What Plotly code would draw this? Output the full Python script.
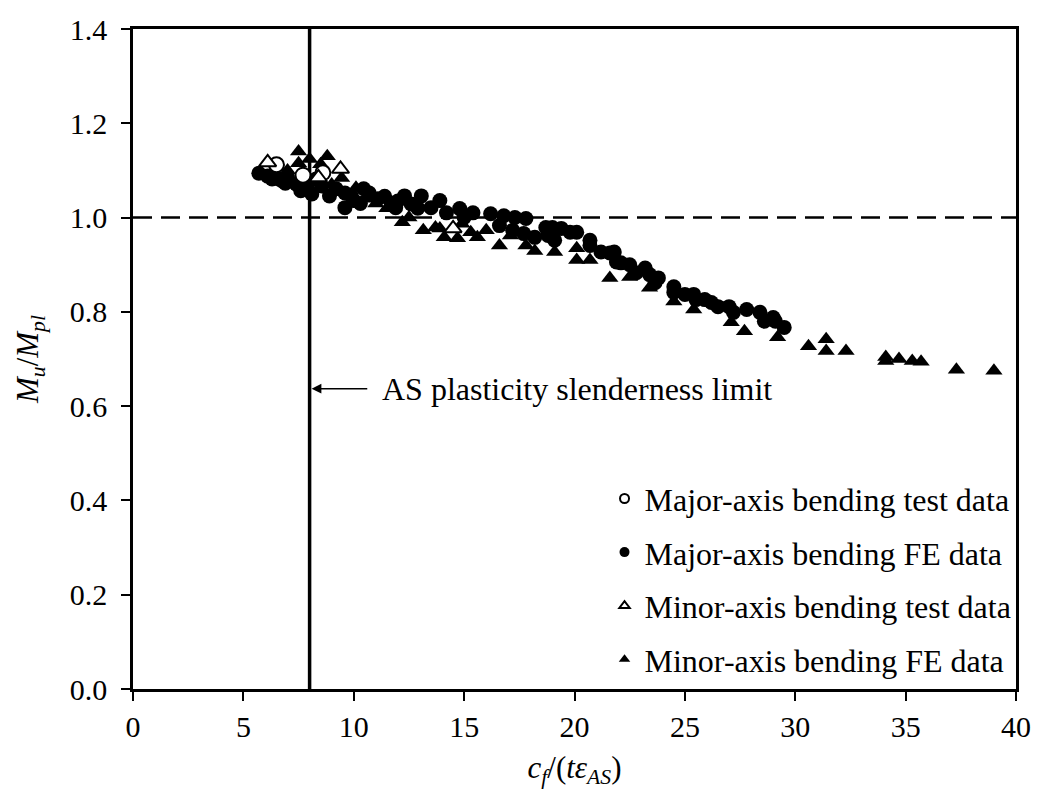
import plotly.graph_objects as go

# ---- data ----
major_fe_x = [5.7, 6.1, 6.3, 6.6, 6.75, 6.9, 7.0, 7.4, 7.6, 7.9, 8.1, 8.3, 8.55, 8.9, 9.2, 9.6, 9.6, 9.9, 10.0, 10.3,
              10.45, 10.7, 11.1, 11.4, 11.7, 11.9, 12.0, 12.3, 12.6, 12.9, 13.06, 13.5, 13.9, 14.2, 14.8, 15.0, 15.4,
              16.2, 16.8, 17.3, 17.8, 16.6, 17.2, 17.7, 18.2, 18.7, 19.0, 19.4, 18.8, 19.1, 19.8, 20.1, 20.7, 20.7,
              21.2, 21.6, 21.9, 21.8, 22.1, 22.5, 22.8, 23.2, 23.4, 23.8, 23.65, 24.5, 24.5, 25.0, 25.4, 25.5, 25.9,
              26.2, 26.5, 27.0, 27.2, 27.8, 28.4, 28.6, 29.0, 29.1, 29.5]
major_fe_y = [1.094, 1.088, 1.082, 1.082, 1.078, 1.073, 1.085, 1.071, 1.057, 1.065, 1.050, 1.082, 1.067, 1.046, 1.061,
              1.052, 1.021, 1.045, 1.036, 1.030, 1.061, 1.052, 1.040, 1.045, 1.031, 1.021, 1.035, 1.046, 1.029, 1.020,
              1.046, 1.021, 1.036, 1.010, 1.019, 1.000, 1.010, 1.008, 1.004, 1.000, 0.998, 0.983, 0.973, 0.966, 0.958,
              0.979, 0.979, 0.977, 0.962, 0.952, 0.969, 0.969, 0.952, 0.941, 0.927, 0.925, 0.906, 0.927, 0.904, 0.900,
              0.883, 0.893, 0.879, 0.872, 0.862, 0.853, 0.841, 0.837, 0.837, 0.826, 0.826, 0.820, 0.811, 0.811, 0.799,
              0.805, 0.799, 0.780, 0.788, 0.780, 0.767]

minor_fe_x = [7.0, 7.5, 7.5, 8.0, 8.5, 8.8, 9.0, 9.45, 10.1, 10.5, 11.0, 11.5, 12.2, 12.5, 13.15, 13.7, 13.9, 14.1,
              14.7, 14.9, 15.3, 15.6, 16.0, 16.6, 17.1, 17.8, 18.2, 19.1, 20.1, 20.1, 20.7, 21.6, 22.5, 23.4, 24.5,
              25.4, 27.1, 27.7, 29.2, 30.6, 31.4, 31.4, 32.3, 34.1, 34.1, 34.7, 35.3, 35.7, 37.3, 39.0]
minor_fe_y = [1.100, 1.140, 1.115, 1.124, 1.113, 1.130, 1.070, 1.084, 1.063, 1.040, 1.030, 1.020, 0.990, 1.000, 0.973,
              0.979, 0.977, 0.958, 0.956, 0.987, 0.969, 0.958, 0.973, 0.941, 0.962, 0.941, 0.929, 0.927, 0.935, 0.910,
              0.910, 0.872, 0.874, 0.851, 0.822, 0.805, 0.778, 0.759, 0.746, 0.727, 0.742, 0.717, 0.717, 0.704, 0.696,
              0.700, 0.696, 0.694, 0.677, 0.675]

major_test_x = [6.5, 7.7, 8.6]
major_test_y = [1.112, 1.090, 1.095]

minor_test_x = [6.1, 8.4, 9.4, 14.5]
minor_test_y = [1.117, 1.085, 1.103, 0.977]

x_ticks = [0, 5, 10, 15, 20, 25, 30, 35, 40]
y_ticks = [0.0, 0.2, 0.4, 0.6, 0.8, 1.0, 1.2, 1.4]
y_tick_labels = ["0.0", "0.2", "0.4", "0.6", "0.8", "1.0", "1.2", "1.4"]

limit_x = 8
ref_y = 1.0
arrow_y = 0.637
arrow_tail_x = 10.68
label_text = "AS plasticity slenderness limit"

legend_names = ["Major-axis bending test data", "Major-axis bending FE data",
                "Minor-axis bending test data", "Minor-axis bending FE data"]

FONT = "Liberation Serif"
FS = 30
FS_TXT = 32

fig = go.Figure()

# reference lines (drawn as traces through the axes)
fig.add_trace(go.Scatter(x=[0, 40], y=[ref_y, ref_y], mode="lines",
                         line=dict(color="black", width=2.5, dash="19px,9px"),
                         showlegend=False, hoverinfo="skip"))
fig.add_trace(go.Scatter(x=[limit_x, limit_x], y=[0, 1.4], mode="lines",
                         line=dict(color="black", width=3.5),
                         showlegend=False, hoverinfo="skip"))

MS = 15
fig.add_trace(go.Scatter(x=major_fe_x, y=major_fe_y, mode="markers",
                         marker=dict(symbol="circle", size=MS, color="black", line=dict(width=0)),
                         showlegend=False))
fig.add_trace(go.Scatter(x=minor_fe_x, y=minor_fe_y, mode="markers",
                         marker=dict(symbol="triangle-up", size=MS, color="black", line=dict(width=0)),
                         showlegend=False))
fig.add_trace(go.Scatter(x=major_test_x, y=major_test_y, mode="markers",
                         marker=dict(symbol="circle", size=MS, color="white", line=dict(width=2, color="black")),
                         showlegend=False))
fig.add_trace(go.Scatter(x=minor_test_x, y=minor_test_y, mode="markers",
                         marker=dict(symbol="triangle-up", size=MS, color="white", line=dict(width=2, color="black")),
                         showlegend=False))

# legend entries (small symbols like the reference)
leg_styles = [
    dict(symbol="circle", size=9, color="white", line=dict(width=2, color="black")),
    dict(symbol="circle", size=10, color="black", line=dict(width=0)),
    dict(symbol="triangle-up", size=9, color="white", line=dict(width=2, color="black")),
    dict(symbol="triangle-up", size=10, color="black", line=dict(width=0)),
]
for i, (name, st) in enumerate(zip(legend_names, leg_styles)):
    fig.add_trace(go.Scatter(x=[None], y=[None], mode="markers", name=name,
                             marker=st, legendgroup=f"g{i}", showlegend=True))

fig.add_annotation(x=limit_x, y=arrow_y, ax=arrow_tail_x, ay=arrow_y, xref="x", yref="y",
                   axref="x", ayref="y", text="", showarrow=True, arrowhead=2, arrowsize=1.3,
                   arrowwidth=1.5, arrowcolor="black", standoff=2)
fig.add_annotation(x=arrow_tail_x + 0.5, y=arrow_y, xref="x", yref="y", text=label_text,
                   showarrow=False, xanchor="left", yanchor="middle",
                   font=dict(family=FONT, size=FS_TXT, color="black"))

axis_common = dict(showgrid=False, zeroline=False, showline=True, linecolor="black", linewidth=2.5,
                   mirror=True, ticks="outside", ticklen=9, tickwidth=2, tickcolor="black",
                   tickfont=dict(family=FONT, size=FS, color="black"))

fig.update_layout(
    width=1043, height=796,
    margin=dict(l=133, r=22, t=21, b=107),
    paper_bgcolor="white", plot_bgcolor="white",
    xaxis=dict(range=[0, 40], tickvals=x_ticks,
               title=dict(text="<i>c<sub>f</sub></i>/(<i>tε<sub>AS</sub></i>)",
                          font=dict(family=FONT, size=31, color="black"), standoff=15),
               **axis_common),
    yaxis=dict(range=[0, 1.4], tickvals=y_ticks, ticktext=y_tick_labels,
               title=dict(text="<i>M<sub>u</sub></i>/<i>M<sub>pl</sub></i>",
                          font=dict(family=FONT, size=31, color="black"), standoff=22),
               ticklabelstandoff=8,
               **axis_common),
    legend=dict(x=0.534, y=0.33, xanchor="left", yanchor="top", bgcolor="rgba(0,0,0,0)",
                font=dict(family=FONT, size=FS_TXT, color="black"), tracegroupgap=9,
                itemwidth=30),
    showlegend=True,
)

fig.write_html("out.html")
